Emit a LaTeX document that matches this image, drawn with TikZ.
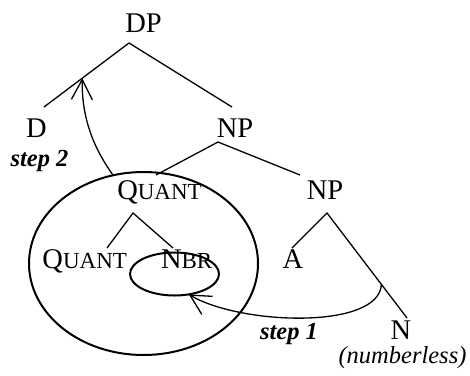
\documentclass[tikz,border=0pt]{standalone}
\usepackage{fontspec}
\setmainfont{Liberation Serif}
\usetikzlibrary{arrows.meta,shapes.geometric,calc}
% fake small caps: big first letter, smaller rest
\newcommand\fsc[2]{#1{\fontsize{23}{25}\selectfont #2}}
\tikzset{
  cat/.style={anchor=base,inner sep=0pt,font=\fontsize{28.5}{30}\selectfont},
  note/.style={anchor=base,inner sep=0pt,font=\fontsize{24.5}{26}\selectfont\itshape},
  branch/.style={line width=1.3pt},
  ring/.style={draw,ellipse,line width=2pt,inner sep=0pt,outer sep=0pt},
  move/.style={line width=1.3pt,-{Straight Barb[length=20pt,width=21pt]}}
}
\begin{document}
\begin{tikzpicture}[x=1pt,y=1pt]
\useasboundingbox (0,0) rectangle (470,-375);
% labels
\node[cat] (dp)     at (143.5,-32)  {DP};
\node[cat] (d)      at (36.5,-137)  {D};
\node[cat] (np)     at (235,-137)   {NP};
\node[cat] (quant)  at (159.5,-199) {\fsc{Q}{UANT}};
\node[cat] (np2)    at (325,-199)   {NP};
\node[cat] (quant2) at (84.7,-268)  {\fsc{Q}{UANT}};
\node[cat] (nbr)    at (186.7,-268) {\fsc{N}{BR}};
\node[cat] (a)      at (293,-268)   {A};
\node[cat] (n)      at (401,-339)   {N};
\node[note] (nless) at (402.5,-363) {(numberless)};
\node[note,font=\fontsize{24.5}{26}\selectfont\bfseries\itshape] (step2) at (39.5,-166) {step 2};
\node[note,font=\fontsize{24.5}{26}\selectfont\bfseries\itshape] (step1) at (289,-339) {step 1};
% branches: name/top/left end/right end
\foreach \t/\ax/\ay/\lx/\ly/\rx/\ry in {dp/129/43/44/107/232/107,
    np/218/142/156/175/300/175,
    quant/133/213/107/248/173/248,
    np2/327/213/292/248/407/318}{
  \coordinate (\t-top) at (\ax,-\ay);
  \coordinate (\t-l) at (\lx,-\ly);
  \coordinate (\t-r) at (\rx,-\ry);
  \draw[branch] (\t-l) -- (\t-top) -- (\t-r);
}
% rings
\node[ring,minimum width=229pt,minimum height=183pt] (bigring) at (143.5,-263.5) {};
\node[ring,minimum width=89pt,minimum height=43pt] (smallring) at (174.5,-274) {};
% movements
\coordinate (s1-start) at ($(np2-top)!0.68!(np2-r)$);
\draw[move] (s1-start) .. controls (379,-330) and (240,-325) .. (smallring.-55);
\draw[move] (bigring.109) .. controls (95,-150) and (81.5,-120) .. ($(dp-top)!0.55!(dp-l)$);
\end{tikzpicture}
\end{document}
